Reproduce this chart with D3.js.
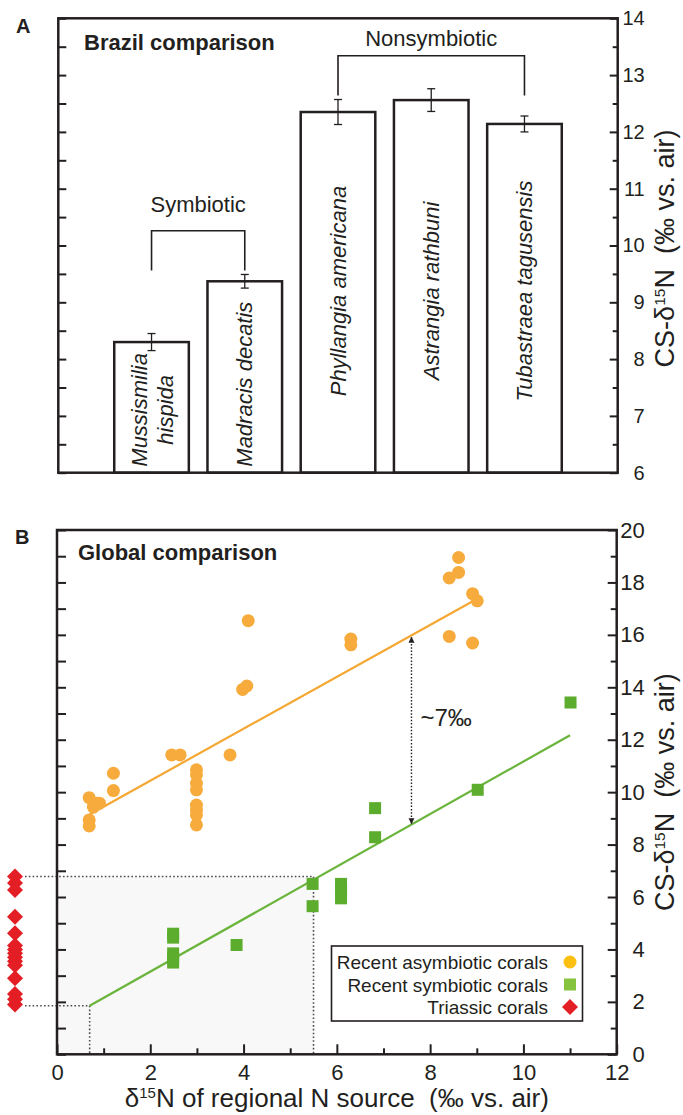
<!DOCTYPE html>
<html><head><meta charset="utf-8">
<script src="https://cdn.jsdelivr.net/npm/d3@7"></script>
<style>
body{margin:0;background:#fff}
svg{display:block}
text{font-family:"Liberation Sans",Arial,Helvetica,sans-serif;fill:#231f20;white-space:pre}
</style>
</head><body>
<svg id="chart" width="683" height="1115"></svg>
<script>
// ---------- Panel A data ----------
const speciesNames = ["Mussismilia hispida","Madracis decatis","Phyllangia americana","Astrangia rathbuni","Tubastraea tagusensis"];
const speciesLines = [["Mussismilia","hispida"],["Madracis decatis"],["Phyllangia americana"],["Astrangia rathbuni"],["Tubastraea tagusensis"]];
const speciesMean = [8.30, 9.37, 12.35, 12.56, 12.14];
const speciesErr  = [0.15, 0.12, 0.22, 0.20, 0.14];
const groupNames = ["Symbiotic","Nonsymbiotic"];
const groupFirst = [0, 2];
const groupLast  = [1, 4];
const yTicksA = [6,7,8,9,10,11,12,13,14];
const yMinorA = [6.5,7.5,8.5,9.5,10.5,11.5,12.5,13.5];

// ---------- Panel B data ----------
const asymX = [0.69,0.85,0.91,0.78,0.69,0.69,1.21,1.21,2.46,2.64,2.99,2.99,2.99,2.99,2.99,2.99,2.99,2.99,3.71,3.98,4.07,4.10,6.30,6.30,8.41,8.61,8.61,8.91,9.01,8.41,8.91];
const asymY = [9.79,9.58,9.58,9.43,8.94,8.71,10.72,10.06,11.42,11.42,10.85,10.66,10.34,10.09,9.51,9.32,9.13,8.75,11.42,13.92,14.05,16.54,15.84,15.62,18.17,18.38,18.95,17.57,17.30,15.94,15.69];
const symX = [2.49,2.49,2.49,2.49,2.49,3.85,5.48,5.48,6.09,6.09,6.09,6.82,6.82,9.02,11.01];
const symY = [4.60,4.45,3.85,3.65,3.50,4.17,6.50,5.65,6.50,6.25,5.95,9.39,8.28,10.09,13.42];
const triassicY = [6.78,6.53,6.27,5.25,4.62,4.15,4.00,3.85,3.70,3.55,3.40,2.90,2.30,2.10,1.90];
const asymFitX = [0.7, 9.0];
const asymFitY = [9.15, 17.37];
const symFitX = [0.7, 11.0];
const symFitY = [1.85, 12.17];
const triassicRangeY = [1.85, 6.78];   // min / max Triassic values
const sourceRangeX = [0.7, 5.5];       // corresponding source d15N
const offsetX = 7.6;                   // position of the ~7‰ offset arrow
const offsetLabel = "~7‰";
const xTicksB = [0,2,4,6,8,10,12];
const xMinorB = [1,3,5,7,9,11];
const yTicksB = [0,2,4,6,8,10,12,14,16,18,20];
const yMinorB = [1,3,5,7,9,11,13,15,17,19];
const legendLabels = ["Recent asymbiotic corals","Recent symbiotic corals","Triassic corals"];

// ---------- styles ----------
const INK = "#231f20";
const ORANGE = "#f7ab3c", ORANGE_LINE = "#f5a733";
const GREEN = "#5cad2d", GREEN_LINE = "#6ab43c";
const RED = "#e31e24";
const LEG_YELLOW = "#fdc010", LEG_GREEN = "#86c440";

const svg = d3.select("#chart");

function ylabel(g, x, y){
  const t = g.append("text").attr("transform",`translate(${x},${y}) rotate(-90)`)
    .attr("text-anchor","middle").attr("font-size",27);
  t.append("tspan").text("CS-δ");
  t.append("tspan").attr("font-size",15.5).attr("dy",-9.5).text("15");
  t.append("tspan").attr("dy",9.5).text("N  (‰ vs. air)");
}

// =============== PANEL A ===============
const A = {left:58.3, right:617.7, top:18.3, bottom:472.7};
const yA = d3.scaleLinear().domain([6,14]).range([A.bottom, A.top]);
const xA = d3.scalePoint().domain(speciesNames).range([A.left, A.right]).padding(1);
const barW = xA.step()*0.8;
const gA = svg.append("g");

// bars
gA.selectAll("rect.bar").data(speciesMean).join("rect").attr("class","bar")
  .attr("x",(d,i)=>xA(speciesNames[i])-barW/2).attr("y",d=>yA(d))
  .attr("width",barW).attr("height",d=>yA(6)-yA(d))
  .attr("fill","#fff").attr("stroke",INK).attr("stroke-width",2.5);

// error bars
const eb = gA.selectAll("g.err").data(speciesMean).join("g").attr("class","err")
  .attr("stroke",INK).attr("stroke-width",1.3);
eb.append("line").attr("x1",(d,i)=>xA(speciesNames[i])).attr("x2",(d,i)=>xA(speciesNames[i]))
  .attr("y1",(d,i)=>yA(d-speciesErr[i])).attr("y2",(d,i)=>yA(d+speciesErr[i]));
eb.append("line").attr("x1",(d,i)=>xA(speciesNames[i])-4).attr("x2",(d,i)=>xA(speciesNames[i])+4)
  .attr("y1",(d,i)=>yA(d-speciesErr[i])).attr("y2",(d,i)=>yA(d-speciesErr[i]));
eb.append("line").attr("x1",(d,i)=>xA(speciesNames[i])-4).attr("x2",(d,i)=>xA(speciesNames[i])+4)
  .attr("y1",(d,i)=>yA(d+speciesErr[i])).attr("y2",(d,i)=>yA(d+speciesErr[i]));

// bar labels
speciesLines.forEach((lines,i)=>{
  const cx = xA(speciesNames[i]);
  const short = speciesMean[i] < 10;
  const g = gA.append("g");
  const texts = lines.map((ln,k)=> g.append("text").attr("font-size",22).attr("font-style","italic")
      .attr("text-anchor","middle").attr("dominant-baseline","central")
      .attr("y",(k-(lines.length-1)/2)*26 + (lines.length>1?1:0)).text(ln));
  const L = d3.max(texts, t=>t.node().getComputedTextLength());
  if (short){
    g.attr("transform",`translate(${cx},${A.bottom-6}) rotate(-90)`);
    texts.forEach(t=>t.attr("x",L/2));
  } else {
    g.attr("transform",`translate(${cx},291) rotate(-90)`);
    texts.forEach(t=>t.attr("x",0));
  }
});

// group brackets
const labelGap = [19, 10];
groupNames.forEach((name,j)=>{
  const i0 = groupFirst[j], i1 = groupLast[j];
  const legBottom = Math.max(speciesMean[i0]+speciesErr[i0], speciesMean[i1]+speciesErr[i1]) + 0.07;
  const top = legBottom + 0.7;
  const x0 = xA(speciesNames[i0]), x1 = xA(speciesNames[i1]);
  gA.append("path").attr("d",`M${x0},${yA(legBottom)}V${yA(top)}H${x1}V${yA(legBottom)}`)
    .attr("fill","none").attr("stroke",INK).attr("stroke-width",1.6);
  gA.append("text").attr("x",(x0+x1)/2).attr("y",yA(top)-labelGap[j]).attr("text-anchor","middle")
    .attr("font-size",22).text(name);
});

// axes A
gA.append("g").attr("transform",`translate(${A.left},0)`)
  .call(d3.axisLeft(yA).tickValues(yTicksA.concat(yMinorA)).tickSize(-8).tickFormat(""));
const axRA = gA.append("g").attr("transform",`translate(${A.right},0)`)
  .call(d3.axisRight(yA).tickValues(yTicksA).tickSize(-8).tickPadding(0));
gA.append("g").attr("transform",`translate(${A.right},0)`)
  .call(d3.axisRight(yA).tickValues(yMinorA).tickSize(-5).tickFormat(""));
gA.selectAll(".domain").remove();
gA.selectAll(".tick line").attr("stroke",INK).attr("stroke-width",2);
axRA.selectAll("text").attr("x",27).attr("text-anchor","end").attr("font-size",20)
  .attr("font-family","Liberation Sans, Arial, sans-serif").attr("fill",INK);

gA.append("rect").attr("x",A.left).attr("y",A.top).attr("width",A.right-A.left).attr("height",A.bottom-A.top)
  .attr("fill","none").attr("stroke",INK).attr("stroke-width",2.5);
gA.append("text").attr("x",16).attr("y",33).attr("font-size",20).attr("font-weight","bold").text("A");
gA.append("text").attr("x",84).attr("y",50).attr("font-size",22).attr("font-weight","bold").text("Brazil comparison");
ylabel(gA, 674, (A.top+A.bottom)/2 + 3);

// =============== PANEL B ===============
const B = {left:57, right:616.7, top:530, bottom:1054.3};
const xB = d3.scaleLinear().domain([0,12]).range([B.left,B.right]);
const yB = d3.scaleLinear().domain([0,20]).range([B.bottom,B.top]);
const gB = svg.append("g");

// shaded triassic window
gB.append("rect").attr("x",xB(0)).attr("y",yB(triassicRangeY[1]))
  .attr("width",xB(sourceRangeX[1])-xB(0)).attr("height",yB(0)-yB(triassicRangeY[1]))
  .attr("fill","#f8f8f8");

// dotted guide lines
const diamondX = B.left - 42;
const dots = gB.append("g").attr("stroke","#4d4d4d").attr("stroke-width",1.6)
  .attr("stroke-dasharray","1.6,2.2").attr("fill","none");
dots.append("path").attr("d",`M${diamondX+10},${yB(triassicRangeY[1])}H${xB(sourceRangeX[1])}V${yB(0)}`);
dots.append("path").attr("d",`M${diamondX+10},${yB(triassicRangeY[0])}H${xB(sourceRangeX[0])}V${yB(0)}`);

// regression lines
const line = d3.line().x(d=>xB(d[0])).y(d=>yB(d[1]));
gB.append("path").attr("d",line(d3.zip(asymFitX,asymFitY))).attr("stroke",ORANGE_LINE).attr("stroke-width",2.2).attr("fill","none");
gB.append("path").attr("d",line(d3.zip(symFitX,symFitY))).attr("stroke",GREEN_LINE).attr("stroke-width",2.2).attr("fill","none");

// asymbiotic points
gB.selectAll("circle.asym").data(d3.zip(asymX,asymY)).join("circle").attr("class","asym")
  .attr("cx",d=>xB(d[0])).attr("cy",d=>yB(d[1])).attr("r",6.5).attr("fill",ORANGE);

// symbiotic squares
const sq = 12;
gB.selectAll("rect.sym").data(d3.zip(symX,symY)).join("rect").attr("class","sym")
  .attr("x",d=>xB(d[0])-sq/2).attr("y",d=>yB(d[1])-sq/2).attr("width",sq).attr("height",sq).attr("fill",GREEN);

// triassic diamonds
const diamond = d3.symbol().type(d3.symbolSquare).size(128);
gB.selectAll("path.tri").data(triassicY).join("path").attr("class","tri")
  .attr("d",diamond).attr("transform",d=>`translate(${diamondX},${yB(d)}) rotate(45)`).attr("fill",RED);

// offset arrow
const defs = svg.append("defs");
defs.append("marker").attr("id","ah").attr("viewBox","0 0 10 10").attr("refX",9).attr("refY",5)
  .attr("markerWidth",6).attr("markerHeight",7).attr("markerUnits","userSpaceOnUse").attr("orient","auto-start-reverse")
  .append("path").attr("d","M0,0L10,5L0,10Z").attr("fill",INK);
const yTopArrow = asymFitY[0] + (offsetX-asymFitX[0])*(asymFitY[1]-asymFitY[0])/(asymFitX[1]-asymFitX[0]);
const yBotArrow = symFitY[0] + (offsetX-symFitX[0])*(symFitY[1]-symFitY[0])/(symFitX[1]-symFitX[0]);
gB.append("line").attr("x1",xB(offsetX)).attr("x2",xB(offsetX))
  .attr("y1",yB(yTopArrow)+2).attr("y2",yB(yBotArrow)-1)
  .attr("stroke",INK).attr("stroke-width",1.4).attr("stroke-dasharray","1.5,1.8")
  .attr("marker-start","url(#ah)").attr("marker-end","url(#ah)");
gB.append("text").attr("x",xB(offsetX)+9).attr("y",726).attr("font-size",24).text(offsetLabel);

// axes B
gB.append("g").attr("transform",`translate(${B.left},0)`)
  .call(d3.axisLeft(yB).tickValues(yTicksB.concat(yMinorB)).tickSize(-9).tickFormat(""));
const axRB = gB.append("g").attr("transform",`translate(${B.right},0)`)
  .call(d3.axisRight(yB).tickValues(yTicksB).tickSize(-9).tickPadding(0));
gB.append("g").attr("transform",`translate(${B.right},0)`)
  .call(d3.axisRight(yB).tickValues(yMinorB).tickSize(-6).tickFormat(""));
const axBB = gB.append("g").attr("transform",`translate(0,${B.bottom})`)
  .call(d3.axisBottom(xB).tickValues(xTicksB).tickSize(-10).tickPadding(10));
gB.append("g").attr("transform",`translate(0,${B.bottom})`)
  .call(d3.axisBottom(xB).tickValues(xMinorB).tickSize(-6).tickFormat(""));
gB.selectAll(".domain").remove();
gB.selectAll(".tick line").attr("stroke",INK).attr("stroke-width",2);
axRB.selectAll("text").attr("x",28).attr("text-anchor","end").attr("font-size",22)
  .attr("font-family","Liberation Sans, Arial, sans-serif").attr("fill",INK);
axBB.selectAll("text").attr("font-size",22)
  .attr("font-family","Liberation Sans, Arial, sans-serif").attr("fill",INK);

gB.append("rect").attr("x",B.left).attr("y",B.top).attr("width",B.right-B.left).attr("height",B.bottom-B.top)
  .attr("fill","none").attr("stroke",INK).attr("stroke-width",2.5);

// legend
const lg = gB.append("g");
lg.append("rect").attr("x",331.5).attr("y",946).attr("width",251).attr("height",75)
  .attr("fill","#fff").attr("stroke",INK).attr("stroke-width",1.6);
legendLabels.forEach((lab,i)=>{
  const cy = 962 + i*22.5;
  lg.append("text").attr("x",548).attr("y",cy+7).attr("text-anchor","end").attr("font-size",19).text(lab);
  if (i===0) lg.append("circle").attr("cx",570).attr("cy",cy).attr("r",6.5).attr("fill",LEG_YELLOW);
  if (i===1) lg.append("rect").attr("x",564).attr("y",cy-6).attr("width",12).attr("height",12).attr("fill",LEG_GREEN);
  if (i===2) lg.append("path").attr("d",diamond).attr("transform",`translate(570,${cy}) rotate(45)`).attr("fill",RED);
});

gB.append("text").attr("x",15).attr("y",544).attr("font-size",20).attr("font-weight","bold").text("B");
gB.append("text").attr("x",78).attr("y",560).attr("font-size",22).attr("font-weight","bold").text("Global comparison");
ylabel(gB, 674, (B.top+B.bottom)/2);

// x title
const xt = gB.append("text").attr("x",(B.left+B.right)/2).attr("y",1107).attr("text-anchor","middle").attr("font-size",26);
xt.append("tspan").text("δ");
xt.append("tspan").attr("font-size",15).attr("dy",-9).text("15");
xt.append("tspan").attr("dy",9).text("N of regional N source  (‰ vs. air)");
</script>
</body></html>
